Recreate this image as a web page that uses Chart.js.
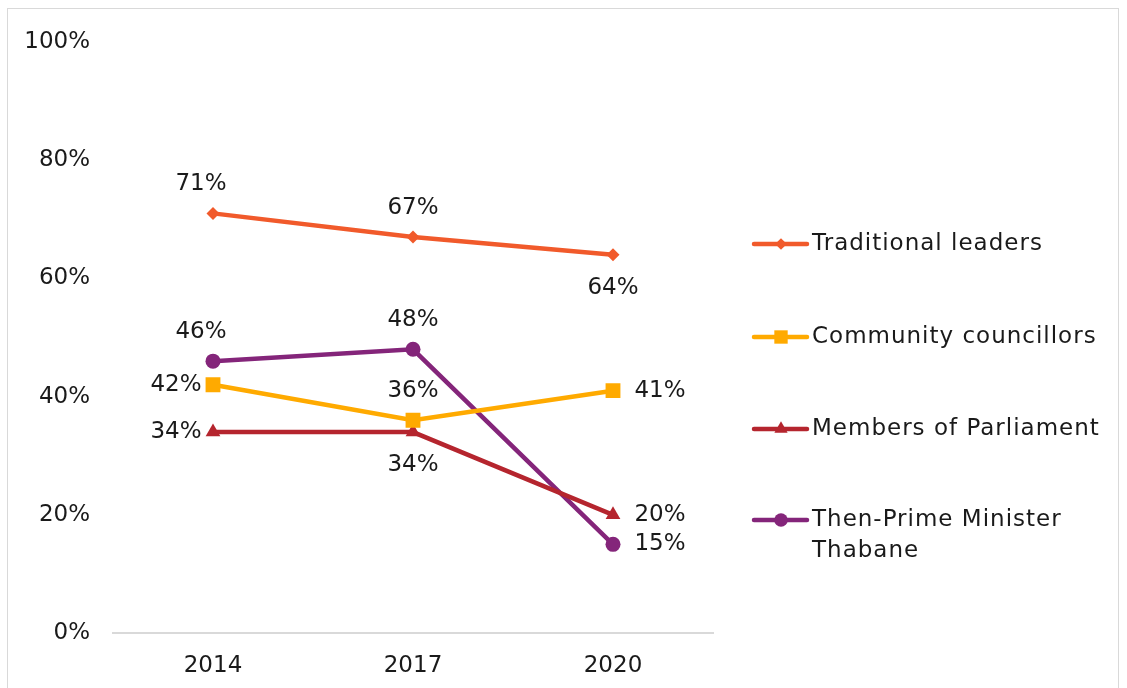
<!DOCTYPE html>
<html>
<head>
<meta charset="utf-8">
<script src="https://cdn.jsdelivr.net/npm/chart.js@4/dist/chart.umd.min.js"></script>
<style>
    html, body { margin: 0; padding: 0; background: #fff; overflow: hidden; }
    #frame { position: absolute; left: 7px; top: 8px; width: 1112px; height: 700px; border: 1px solid #d9d9d9; box-sizing: border-box; }
    #wrap { position: absolute; left: 0; top: 0; width: 1127px; height: 688px; }
</style>
</head>
<body>
<div id="frame"></div>
<div id="wrap"><canvas id="trustChart" width="1127" height="688"></canvas></div>
<script>
// Data
const years = ['2014', '2017', '2020'];
const seriesNames = ['Traditional leaders', 'Community councillors', 'Members of Parliament', ['Then-Prime Minister', 'Thabane']];
const traditionalLeaders = [71, 67, 64];
const communityCouncillors = [42, 36, 41];
const membersOfParliament = [34, 34, 20];
const primeMinister = [46, 48, 15];
const yTicks = [0, 20, 40, 60, 80, 100];

const FONT = '"DejaVu Sans", sans-serif';
const FONT_SIZE = 23;

// where each data label sits relative to its point
const labelPlacement = [
    ['top', 'top', 'bottom'],
    ['left', 'top', 'right'],
    ['left', 'bottom', 'right'],
    ['top', 'top', 'right']
];

const colors = ['#F15A2B', '#FFAA00', '#B5252E', '#84257A'];
const markers = ['rectRot', 'rect', 'triangle', 'circle'];
const markerSize = [6.5, 10.5, 8.5, 7.5];

const values = [traditionalLeaders, communityCouncillors, membersOfParliament, primeMinister];

const datasets = values.map((vals, i) => ({
    label: Array.isArray(seriesNames[i]) ? seriesNames[i].join(' ') : seriesNames[i],
    data: vals,
    borderColor: colors[i],
    backgroundColor: colors[i],
    borderWidth: 4.5,
    pointStyle: markers[i],
    pointRadius: markerSize[i],
    pointHoverRadius: markerSize[i],
    pointBorderWidth: 0,
    tension: 0
}));

// Data labels
const dataLabels = {
    id: 'dataLabels',
    afterDatasetsDraw(chart) {
        const ctx = chart.ctx;
        ctx.save();
        ctx.font = FONT_SIZE + 'px ' + FONT;
        ctx.fillStyle = '#1a1a1a';
        ctx.textBaseline = 'middle';
        ctx.textAlign = 'center';
        chart.data.datasets.forEach((ds, i) => {
            const meta = chart.getDatasetMeta(i);
            meta.data.forEach((pt, j) => {
                const pos = labelPlacement[i][j];
                let x = pt.x, y = pt.y;
                if (pos === 'top') { y -= 29; x -= (j === 0 ? 12 : 0); }
                if (pos === 'bottom') y += 33;
                if (pos === 'left') x -= 37;
                if (pos === 'right') x += 47;
                ctx.fillText(ds.data[j] + '%', x, y);
            });
        });
        ctx.restore();
    }
};

// Legend drawn on the right with line + marker
const sideLegend = {
    id: 'sideLegend',
    afterDraw(chart) {
        const ctx = chart.ctx;
        const rows = [244, 337, 429, 520];
        ctx.save();
        ctx.font = FONT_SIZE + 'px ' + FONT;
        ctx.textBaseline = 'middle';
        ctx.textAlign = 'left';
        seriesNames.forEach((name, i) => {
            const y = rows[i];
            ctx.strokeStyle = colors[i];
            ctx.lineWidth = 4.5;
            ctx.lineCap = 'round';
            ctx.beginPath();
            ctx.moveTo(754, y);
            ctx.lineTo(807, y);
            ctx.stroke();
            ctx.fillStyle = colors[i];
            Chart.helpers.drawPoint(ctx, { pointStyle: markers[i], radius: markerSize[i] * 0.9, borderWidth: 0 }, 781, y);
            ctx.fillStyle = '#1a1a1a';
            ctx.letterSpacing = '1px';
            const lines = Array.isArray(name) ? name : [name];
            lines.forEach((ln, k) => ctx.fillText(ln, 812, y + k * 31));
            ctx.letterSpacing = '0px';
        });
        ctx.restore();
    }
};

const config = {
    type: 'line',
    data: { labels: years, datasets: datasets },
    options: {
        responsive: false,
        animation: false,
        layout: { padding: { left: 0, right: 414, top: 42, bottom: 0 } },
        plugins: {
            legend: { display: false },
            tooltip: { enabled: false }
        },
        scales: {
            x: {
                offset: true,
                grid: { display: false, drawTicks: false },
                border: { display: true, color: '#d9d9d9', width: 2 },
                ticks: { color: '#1a1a1a', font: { size: FONT_SIZE, family: FONT }, padding: 19 },
                afterFit(scale) { scale.height = 55; }
            },
            y: {
                min: 0,
                max: 100,
                afterBuildTicks(scale) { scale.ticks = yTicks.map(v => ({ value: v })); },
                grid: { display: false, drawTicks: false },
                border: { display: false },
                ticks: { color: '#1a1a1a', font: { size: FONT_SIZE, family: FONT }, padding: 23, callback: v => v + '%' },
                afterFit(scale) { scale.width = 113; }
            }
        }
    },
    plugins: [dataLabels, sideLegend]
};

new Chart(document.getElementById('trustChart').getContext('2d'), config);
</script>
</body>
</html>
